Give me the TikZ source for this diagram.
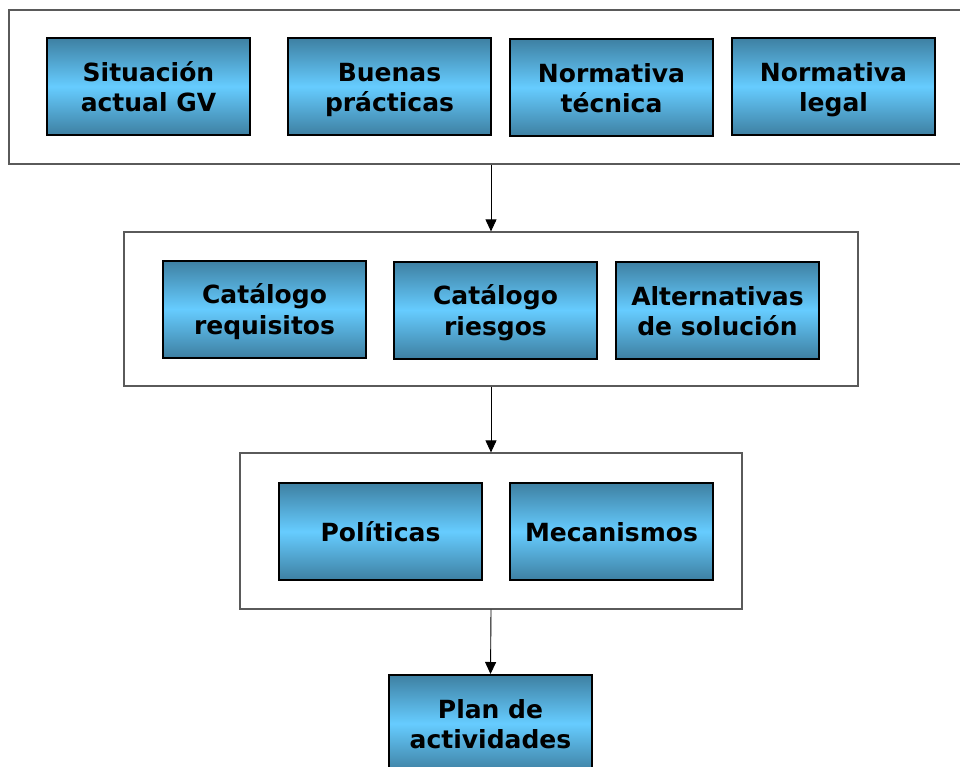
\documentclass[tikz,border=0pt]{standalone}
\usepackage{fontspec}
\setmainfont{DejaVu Sans}
\usetikzlibrary{arrows.meta}
\definecolor{boxdark}{RGB}{62,128,162}
\definecolor{boxlight}{RGB}{102,204,255}
\definecolor{framegray}{RGB}{90,90,90}
% fixed line strut so every box centres its text the same way
\newcommand\bstr{\rule[-5pt]{0pt}{30pt}}
\tikzset{
  frame/.style={draw=framegray, line width=1.2pt, fill=white, inner sep=0pt},
  stagebox/.style={draw=black, line width=2pt, inner sep=0pt,
    minimum width=203pt, minimum height=97pt,
    top color=boxdark, bottom color=boxdark, middle color=boxlight,
    align=center, font=\fontsize{25}{30}\selectfont\bfseries, text=black},
  flow/.style={draw=black, line width=0.9pt, -{Triangle[length=12pt,width=11pt]}}
}
\begin{document}
\begin{tikzpicture}[x=1pt,y=-1pt]
\useasboundingbox (0,0) rectangle (960,767);
% frames grouping each stage
\node[frame, minimum width=966pt, minimum height=154pt] (f1) at (492,87) {};
\node[frame, minimum width=734pt, minimum height=154pt] (f2) at (491,309) {};
\node[frame, minimum width=502pt, minimum height=156pt] (f3) at (491,531) {};
% first stage: inputs
\node[stagebox] (sit) at (148.5,86.5) {\bstr Situación\\\bstr actual GV};
\node[stagebox] (bue) at (389.5,86.5) {\bstr Buenas\\\bstr prácticas};
\node[stagebox] (tec) at (611.5,87.5) {\bstr Normativa\\\bstr técnica};
\node[stagebox] (leg) at (833.5,86.5) {\bstr Normativa\\\bstr legal};
% second stage: catalogues
\node[stagebox] (req) at (264.5,309) {\bstr Catálogo\\\bstr requisitos};
\node[stagebox] (rie) at (495.5,310) {\bstr Catálogo\\\bstr riesgos};
\node[stagebox] (alt) at (717.5,310) {\bstr Alternativas\\\bstr de solución};
% third stage
\node[stagebox] (pol) at (380.5,531.5) {\bstr Políticas};
\node[stagebox] (mec) at (611.5,531.5) {\bstr Mecanismos};
% result
\node[stagebox] (plan) at (490.5,723.5) {\bstr Plan de\\\bstr actividades};
% connectors between stages
\draw[flow] (f1.south -| f2.north) -- (f2.north);
\draw[flow] (f2.south) -- (f3.north);
\draw[flow] (f3.south) -- (plan.north);
\end{tikzpicture}
\end{document}
